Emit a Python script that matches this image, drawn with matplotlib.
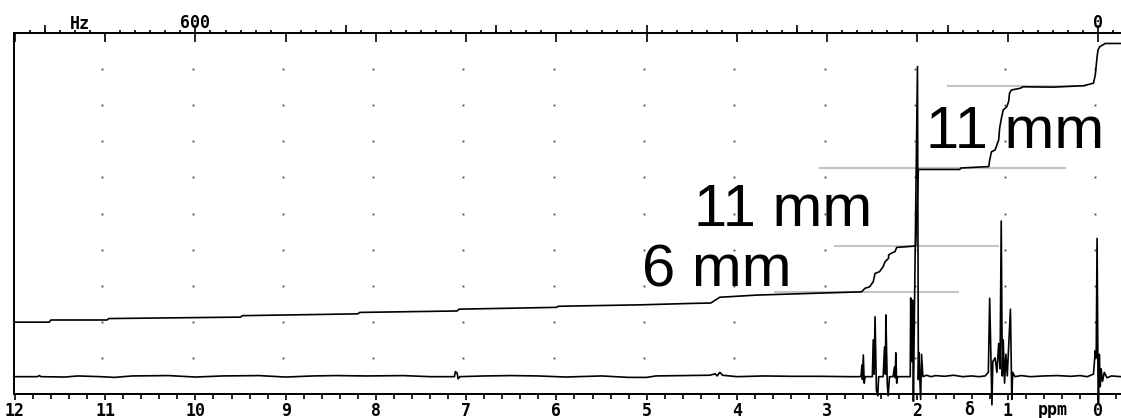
import numpy as np
import matplotlib
matplotlib.use('Agg')
from matplotlib import pyplot as plt
from matplotlib.ticker import MultipleLocator, FixedLocator, FuncFormatter

# 60 MHz proton spectrum, chemical shift in ppm, intensity in chart divisions (0..10)
spec_ppm = [12.01, 11.75, 11.73, 11.71, 11.45, 11.30, 11.05, 10.90, 10.70, 10.30,
            10.00, 9.70, 9.30, 9.00, 8.70, 8.45, 8.10, 7.70, 7.40, 7.13,
            7.12, 7.10, 7.09, 7.07, 6.80, 6.50, 6.20, 5.90, 5.50, 5.20,
            5.00, 4.90, 4.60, 4.30, 4.24, 4.22, 4.19, 4.16, 4.00, 3.70,
            3.40, 3.10, 2.75,
            # quartet
            2.64, 2.625, 2.615, 2.61, 2.60, 2.59, 2.58, 2.50, 2.49, 2.48,
            2.47, 2.455, 2.44, 2.43, 2.38, 2.365, 2.355, 2.35, 2.335, 2.325,
            2.31, 2.27, 2.255, 2.245, 2.24, 2.23, 2.22, 2.10,
            # singlet
            2.08, 2.075, 2.065, 2.055, 2.045, 2.035, 2.00, 1.99, 1.985, 1.965,
            1.955, 1.94, 1.90, 1.85, 1.80, 1.70, 1.60, 1.50, 1.40, 1.32,
            # triplet
            1.25, 1.215, 1.20, 1.175, 1.165, 1.14, 1.12, 1.10, 1.085, 1.072,
            1.06, 1.05, 1.035, 1.02, 1.005, 0.97, 0.955, 0.945, 0.92, 0.85,
            0.75, 0.60, 0.45, 0.30, 0.20, 0.12,
            # TMS
            0.05, 0.03, 0.02, 0.01, 0.00, -0.005, -0.015, -0.025, -0.035, -0.05,
            -0.07, -0.10, -0.15, -0.255]
spec_int = [0.48, 0.48, 0.51, 0.48, 0.47, 0.50, 0.48, 0.46, 0.50, 0.51,
            0.47, 0.50, 0.51, 0.47, 0.50, 0.51, 0.50, 0.51, 0.48, 0.48,
            0.62, 0.58, 0.42, 0.48, 0.50, 0.51, 0.50, 0.47, 0.50, 0.46,
            0.46, 0.50, 0.51, 0.52, 0.56, 0.50, 0.60, 0.52, 0.48, 0.50,
            0.49, 0.49, 0.48,
            0.48, 0.50, 0.80, 0.40, 1.08, 0.30, 0.48, 0.48, 1.50, 0.55,
            2.14, 0.10, -0.05, 0.48, 0.48, 1.30, 0.55, 2.19, 0.30, -0.05,
            0.48, 0.48, 0.75, 0.45, 1.14, 0.30, 0.48, 0.48,
            0.48, 2.66, 0.90, 2.60, -0.20, 2.00, 9.07, 0.40, 1.15, -0.15,
            1.10, 0.48, 0.52, 0.48, 0.51, 0.49, 0.52, 0.48, 0.50, 0.48,
            0.50, 0.60, 2.65, -0.30, 0.90, 1.00, 0.60, 1.40, 0.70, 4.79,
            0.50, 1.50, 0.30, 1.10, 0.50, 2.35, -0.15, 0.60, 0.48, 0.51,
            0.48, 0.50, 0.51, 0.49, 0.51, 0.48,
            0.55, 1.20, 1.00, 4.31, 0.50, -0.25, 1.10, 0.20, 0.70, 0.35,
            0.60, 0.45, 0.50, 0.48]

# integral trace
integral_ppm = [12.01, 11.62, 11.60, 10.98, 10.96, 9.50, 9.48, 8.20, 8.18, 7.10,
                7.08, 6.00, 5.98, 5.07, 4.49, 4.29, 4.19, 3.78, 3.14, 2.62,
                2.58, 2.53, 2.49, 2.47, 2.42, 2.38, 2.36, 2.32, 2.32, 2.29,
                2.25, 2.23, 2.02, 1.99, 1.53, 1.52, 1.21, 1.20, 1.18, 1.14,
                1.10, 1.09, 1.07, 1.05, 1.01, 0.99, 0.98, 0.96, 0.86, 0.83,
                0.50, 0.16, 0.05, 0.03, 0.01, 0.00, -0.02, -0.08, -0.255]
integral_int = [1.99, 1.99, 2.05, 2.05, 2.09, 2.13, 2.17, 2.22, 2.26, 2.30,
                2.35, 2.40, 2.43, 2.47, 2.51, 2.52, 2.68, 2.74, 2.79, 2.83,
                2.93, 2.97, 3.11, 3.34, 3.39, 3.53, 3.66, 3.76, 3.85, 3.90,
                3.94, 4.06, 4.10, 6.22, 6.22, 6.26, 6.30, 6.48, 6.71, 6.76,
                7.04, 7.36, 7.64, 7.87, 7.96, 8.10, 8.33, 8.42, 8.47, 8.51,
                8.50, 8.54, 8.61, 8.84, 9.34, 9.53, 9.62, 9.71, 9.71]

# integration reference levels
ref_level = [2.83, 4.11, 6.27, 8.52]
ref_left = [3.58, 2.91, 3.08, 1.66]
ref_right = [1.55, 1.11, 0.37, 0.14]

step_text = ["6 mm", "11 mm", "11 mm"]
step_ppm = [5.05, 4.48, 1.91]
step_level = [2.97, 4.65, 6.81]

ppm_major = np.arange(0, 13)
hz_labels = {600: "600", 0: "0"}

mono = dict(family='DejaVu Sans Mono', weight='bold', size=12)

fig = plt.figure(figsize=(11.21, 4.18), dpi=100, facecolor='w')
ax = fig.add_axes([14 / 1121, 24 / 418, 1 - 14 / 1121, 361 / 418])
ax.set_xlim(12.01, -0.255)
ax.set_ylim(0, 10)

# dotted chart grid
gx, gy = np.meshgrid(ppm_major[:-1], np.arange(1, 10))
ax.plot(gx.ravel() + 0.03, gy.ravel(), ls='none', marker='s', ms=1.3,
        color='#444444', mew=0)

for lvl, a, b in zip(ref_level, ref_left, ref_right):
    ax.plot([a, b], [lvl, lvl], color='#c4c4c4', lw=1.5, zorder=2)

ax.plot(integral_ppm, integral_int, color='black', lw=1.2, zorder=3)
ax.plot(spec_ppm, spec_int, color='black', lw=1.2, zorder=3, clip_on=False)

for t, x, y in zip(step_text, step_ppm, step_level):
    ax.text(x, y, t, family='Liberation Sans', fontsize=43, ha='left',
            va='baseline', zorder=4)

for side in ['top', 'right']:
    ax.spines[side].set_visible(False)
for side in ['left', 'bottom']:
    ax.spines[side].set_linewidth(1.4)
ax.set_yticks([])
ax.xaxis.set_major_locator(FixedLocator(ppm_major))
ax.xaxis.set_minor_locator(MultipleLocator(0.2))
ax.tick_params(axis='x', which='major', direction='out', length=4.5, width=1.2, pad=1)
ax.tick_params(axis='x', which='minor', direction='out', length=3.5, width=1.2)
ax.set_xticklabels([str(v) for v in ppm_major], **mono)
ax.text(1.43, -0.044, 'δ', transform=ax.get_xaxis_transform(), ha='center',
        va='center', **mono)
ax.text(0.5, -0.044, 'ppm', transform=ax.get_xaxis_transform(), ha='center',
        va='center', **mono)

# Hz scale along the top (60 Hz per ppm)
hz = ax.secondary_xaxis('top', functions=(lambda p: p * 60, lambda h: h / 60))
hz.spines['top'].set_linewidth(1.4)
hz.xaxis.set_major_locator(MultipleLocator(60))
hz.xaxis.set_minor_locator(MultipleLocator(10))
hz.xaxis.set_major_formatter(FuncFormatter(lambda v, p: hz_labels.get(int(round(v)), '')))
hz.tick_params(which='major', direction='in', length=6.5, width=1.2, pad=0.5)
hz.tick_params(which='minor', direction='out', length=2.5, width=1.2)
for lab in hz.get_xticklabels():
    lab.set_fontproperties(matplotlib.font_manager.FontProperties(**mono))

hz100 = ax.secondary_xaxis('top', functions=(lambda p: p * 60, lambda h: h / 60))
hz100.spines['top'].set_visible(False)
hz100.xaxis.set_major_locator(MultipleLocator(100))
hz100.tick_params(which='major', direction='out', length=5.5, width=1.2,
                  labeltop=False)
hz100.set_xticklabels([])

ax.text(11.28, 1.025, 'Hz', transform=ax.get_xaxis_transform(), ha='center',
        va='center', **mono)

fig.savefig('out.png', dpi=100, facecolor='w')
